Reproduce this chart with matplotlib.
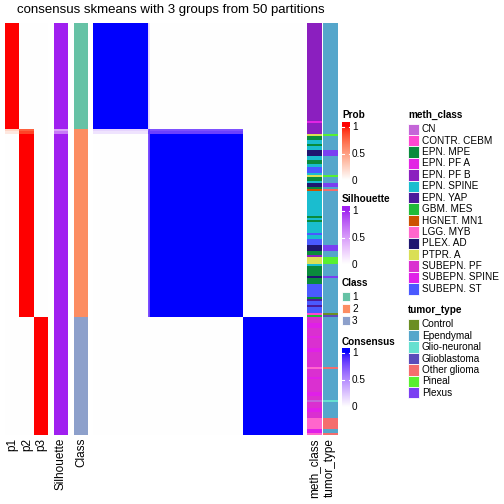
import numpy as np
import matplotlib
matplotlib.use("Agg")
import matplotlib.pyplot as plt
from matplotlib.colors import ListedColormap, to_rgb
from matplotlib.patches import Rectangle

plt.rcParams['font.family'] = ['Liberation Sans', 'DejaVu Sans']

title = "consensus skmeans with 3 groups from 50 partitions"

class_sizes = [52, 91, 57]
class_colors = ["#66C2A5", "#FC8D62", "#8DA0CB"]

# two samples at the top of class 2 which are not clean
amb_rows = [52, 53]
amb_p1 = [0.22, 0.12]
amb_p2 = [0.78, 0.88]
amb_sil = [0.45, 0.65]
amb_cons_c1 = [0.18, 0.12]
amb_cons_c2 = [0.75, 0.82]

meth_levels = ["CN", "CONTR. CEBM", "EPN. MPE", "EPN. PF A", "EPN. PF B", "EPN. SPINE",
               "EPN. YAP", "GBM. MES", "HGNET. MN1", "LGG. MYB", "PLEX. AD", "PTPR. A",
               "SUBEPN. PF", "SUBEPN. SPINE", "SUBEPN. ST"]
meth_colors = ["#C466D8", "#FF46D0", "#0A8B3C", "#E224E4", "#8B1FBF", "#1ABDCF",
               "#4B1A9B", "#20BB38", "#CC5200", "#FF66CC", "#1F1670", "#DADF55",
               "#DA30D0", "#E020E8", "#4A5AFF"]
tumor_levels = ["Control", "Ependymal", "Glio-neuronal", "Glioblastoma",
                "Other glioma", "Pineal", "Plexus"]
tumor_colors = ["#6B8E23", "#55A6CB", "#66E0D0", "#5B4CBA", "#F46D6D", "#58F030", "#7B3FF2"]

# annotation runs, top to bottom: (meth_class, tumor_type, n)
anno_runs = [
    # class 1
    ("EPN. PF B", "Ependymal", 48), ("EPN. PF A", "Ependymal", 1), ("EPN. PF B", "Ependymal", 3),
    # class 2
    ("EPN. PF B", "Ependymal", 2), ("PTPR. A", "Pineal", 1), ("EPN. MPE", "Ependymal", 2),
    ("EPN. SPINE", "Ependymal", 2), ("EPN. MPE", "Ependymal", 1), ("EPN. SPINE", "Ependymal", 2),
    ("PLEX. AD", "Plexus", 3), ("EPN. SPINE", "Ependymal", 2), ("EPN. MPE", "Ependymal", 2),
    ("EPN. SPINE", "Ependymal", 1), ("SUBEPN. ST", "Ependymal", 3), ("EPN. SPINE", "Ependymal", 1),
    ("PTPR. A", "Pineal", 1), ("EPN. MPE", "Ependymal", 2), ("EPN. SPINE", "Ependymal", 1),
    ("PLEX. AD", "Plexus", 2), ("EPN. MPE", "Ependymal", 1), ("HGNET. MN1", "Other glioma", 1),
    ("EPN. SPINE", "Ependymal", 12), ("EPN. MPE", "Ependymal", 1), ("EPN. SPINE", "Ependymal", 1),
    ("EPN. MPE", "Ependymal", 1), ("EPN. SPINE", "Ependymal", 5), ("SUBEPN. ST", "Ependymal", 1),
    ("EPN. SPINE", "Ependymal", 2), ("SUBEPN. ST", "Ependymal", 3), ("PLEX. AD", "Plexus", 3),
    ("EPN. MPE", "Ependymal", 2), ("EPN. PF B", "Ependymal", 1), ("PTPR. A", "Pineal", 3),
    ("EPN. SPINE", "Ependymal", 1), ("EPN. MPE", "Ependymal", 5), ("PLEX. AD", "Plexus", 1),
    ("EPN. MPE", "Ependymal", 3), ("SUBEPN. ST", "Ependymal", 6), ("EPN. MPE", "Ependymal", 1),
    ("EPN. YAP", "Ependymal", 1), ("SUBEPN. ST", "Ependymal", 2), ("EPN. YAP", "Ependymal", 1),
    ("SUBEPN. ST", "Ependymal", 3), ("CONTR. CEBM", "Control", 1), ("GBM. MES", "Glioblastoma", 1),
    # class 3
    ("SUBEPN. PF", "Ependymal", 3), ("SUBEPN. SPINE", "Ependymal", 2), ("SUBEPN. PF", "Ependymal", 4),
    ("EPN. PF A", "Ependymal", 1), ("SUBEPN. PF", "Ependymal", 5), ("SUBEPN. SPINE", "Ependymal", 2),
    ("SUBEPN. PF", "Ependymal", 7), ("LGG. MYB", "Other glioma", 1), ("SUBEPN. PF", "Ependymal", 4),
    ("SUBEPN. SPINE", "Ependymal", 1), ("SUBEPN. PF", "Ependymal", 6), ("SUBEPN. SPINE", "Ependymal", 2),
    ("SUBEPN. PF", "Ependymal", 2), ("CN", "Glio-neuronal", 1), ("SUBEPN. PF", "Ependymal", 3),
    ("SUBEPN. SPINE", "Ependymal", 2), ("SUBEPN. PF", "Ependymal", 3), ("LGG. MYB", "Other glioma", 5),
    ("SUBEPN. SPINE", "Ependymal", 2), ("LGG. MYB", "Other glioma", 1),
]


def lab_ramp(c0, c1, n=256):
    # colour ramp interpolated in CIE Lab, like colorRamp2
    def to_lab(c):
        rgb = np.array(to_rgb(c))
        lin = np.where(rgb <= 0.04045, rgb / 12.92, ((rgb + 0.055) / 1.055) ** 2.4)
        M = np.array([[0.4124, 0.3576, 0.1805], [0.2126, 0.7152, 0.0722], [0.0193, 0.1192, 0.9505]])
        xyz = M @ lin / np.array([0.95047, 1.0, 1.08883])
        f = np.where(xyz > 0.008856, np.cbrt(xyz), 7.787 * xyz + 16 / 116)
        return np.array([116 * f[1] - 16, 500 * (f[0] - f[1]), 200 * (f[1] - f[2])])
    l0, l1 = to_lab(c0), to_lab(c1)
    out = []
    for t in np.linspace(0, 1, n):
        L, a, b = l0 + (l1 - l0) * t
        fy = (L + 16) / 116
        fx, fz = fy + a / 500, fy - b / 200
        f = np.array([fx, fy, fz])
        xyz = np.where(f ** 3 > 0.008856, f ** 3, (f - 16 / 116) / 7.787) * np.array([0.95047, 1.0, 1.08883])
        Mi = np.array([[3.2406, -1.5372, -0.4986], [-0.9689, 1.8758, 0.0415], [0.0557, -0.2040, 1.0570]])
        lin = np.clip(Mi @ xyz, 0, 1)
        rgb = np.where(lin <= 0.0031308, 12.92 * lin, 1.055 * lin ** (1 / 2.4) - 0.055)
        out.append(np.clip(rgb, 0, 1))
    return ListedColormap(out)


prob_cmap = lab_ramp("white", "red")
sil_cmap = lab_ramp("white", "#A020F0")
cons_cmap = lab_ramp("white", "blue")

# build the matrices
N = sum(class_sizes)
cls = np.repeat(np.arange(3), class_sizes)
prob = np.zeros((N, 3))
prob[np.arange(N), cls] = 1
sil = np.ones(N)
cons = (cls[:, None] == cls[None, :]).astype(float)
for r, a, b, s, c1, c2 in zip(amb_rows, amb_p1, amb_p2, amb_sil, amb_cons_c1, amb_cons_c2):
    prob[r] = [a, b, 0]
    sil[r] = s
    cons[r, cls == 0] = c1
    cons[cls == 0, r] = c1
    cons[r, cls == 1] = c2
    cons[cls == 1, r] = c2

meth = np.concatenate([[meth_levels.index(m)] * n for m, t, n in anno_runs])
tumor = np.concatenate([[tumor_levels.index(t)] * n for m, t, n in anno_runs])

W = H = 504
fig = plt.figure(figsize=(W / 100, H / 100), dpi=100)


def px_axes(x0, y0, x1, y1):
    ax = fig.add_axes([x0 / W, 1 - y1 / H, (x1 - x0) / W, (y1 - y0) / H])
    ax.set_axis_off()
    return ax


top, bot = 22.5, 435
kw = dict(aspect="auto", interpolation="nearest")
px_axes(5, top, 48, bot).imshow(prob, cmap=prob_cmap, vmin=0, vmax=1, **kw)
px_axes(54, top, 68, bot).imshow(sil[:, None], cmap=sil_cmap, vmin=0, vmax=1, **kw)
px_axes(74, top, 88, bot).imshow(cls[:, None], cmap=ListedColormap(class_colors), vmin=-0.5, vmax=2.5, **kw)
px_axes(93, top, 302.5, bot).imshow(cons, cmap=cons_cmap, vmin=0, vmax=1, **kw)
px_axes(307, top, 322, bot).imshow(meth[:, None], cmap=ListedColormap(meth_colors),
                                   vmin=-0.5, vmax=len(meth_levels) - 0.5, **kw)
px_axes(323, top, 337.5, bot).imshow(tumor[:, None], cmap=ListedColormap(tumor_colors),
                                     vmin=-0.5, vmax=len(tumor_levels) - 0.5, **kw)

# overlay in pixel coordinates for text and legends
ov = fig.add_axes([0, 0, 1, 1])
ov.set_axis_off()

ov.text(171, 10, title, ha="center", va="center", fontsize=9.5)
for x, lab in [(12.5, "p1"), (27, "p2"), (41, "p3"), (61, "Silhouette"), (81, "Class"),
               (314.5, "meth_class"), (330, "tumor_type")]:
    ov.text(x, 438, lab, rotation=90, ha="center", va="top", fontsize=8.5)

fs = 7.2


def colorbar(title_y, y1, y0, bar_top, cmap, name):
    ov.text(342, title_y, name, ha="left", va="center", fontsize=fs, fontweight="bold")
    ys = np.linspace(bar_top, y0, 120)
    grad = np.clip((y0 - ys) / (y0 - y1), 0, 1)[:, None]
    ov.imshow(grad, cmap=cmap, vmin=0, vmax=1, extent=(342, 350, y0, bar_top),
              origin="upper", aspect="auto", interpolation="bilinear")
    for v, lab in [(1, "1"), (0.5, "0.5"), (0, "0")]:
        y = y0 - v * (y0 - y1)
        ov.plot([342, 343.5], [y, y], color="white", lw=0.8)
        ov.plot([348.5, 350], [y, y], color="white", lw=0.8)
        ov.text(352, y, lab, ha="left", va="center", fontsize=fs)


colorbar(115, 126.7, 180.5, 122.5, prob_cmap, "Prob")
colorbar(199, 210.7, 264.5, 206.5, sil_cmap, "Silhouette")
colorbar(342, 352.7, 407.5, 348.5, cons_cmap, "Consensus")

ov.text(342, 282.7, "Class", ha="left", va="center", fontsize=fs, fontweight="bold")
for i, c in enumerate(class_colors):
    yc = 296.7 + i * 12
    ov.add_patch(Rectangle((342, yc - 4.5), 8, 9, facecolor=c, edgecolor="white", lw=0.6))
    ov.text(352, yc, str(i + 1), ha="left", va="center", fontsize=fs)


def discrete_legend(title_y, first_y, levels, colors, name):
    ov.text(408, title_y, name, ha="left", va="center", fontsize=fs, fontweight="bold")
    for i, (lev, c) in enumerate(zip(levels, colors)):
        yc = first_y + i * 11.4
        ov.add_patch(Rectangle((408, yc - 5.7), 10.5, 11.4, facecolor=c, edgecolor="white", lw=0.6))
        ov.text(422, yc, lev, ha="left", va="center", fontsize=fs)


discrete_legend(115, 129.3, meth_levels, meth_colors, "meth_class")
discrete_legend(310, 324.3, tumor_levels, tumor_colors, "tumor_type")

ov.set_xlim(0, W)
ov.set_ylim(H, 0)

fig.savefig("out.png", dpi=100)
